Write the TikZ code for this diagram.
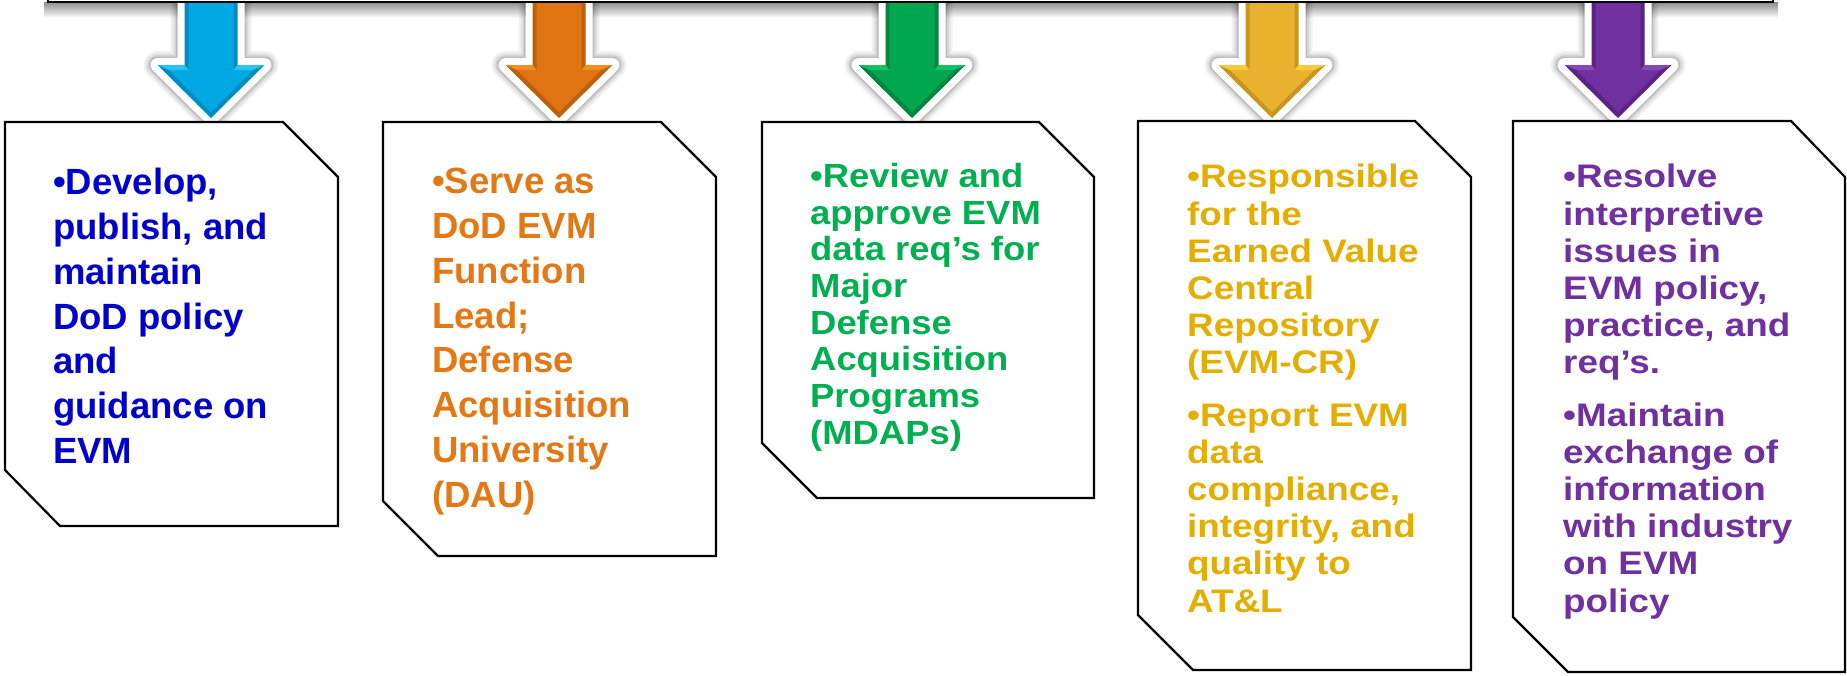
\documentclass[tikz,border=0pt]{standalone}
\usepackage{fontspec}
\setmainfont{Liberation Sans}
\newfontfamily\fontC{Liberation Sans}[FakeStretch=1.087]
\newfontfamily\fontD{Liberation Sans}[FakeStretch=1.13]
\definecolor{tBlue}{RGB}{0,0,204}
\definecolor{tOrange}{RGB}{228,120,20}
\definecolor{tGreen}{RGB}{0,176,80}
\definecolor{tYellow}{RGB}{228,174,0}
\definecolor{tPurple}{RGB}{112,48,160}
\definecolor{aBlueB}{RGB}{0,169,228}\definecolor{aBlueL}{RGB}{40,196,245}\definecolor{aBlueD}{RGB}{0,140,195}
\definecolor{aOrangeB}{RGB}{222,117,16}\definecolor{aOrangeL}{RGB}{246,140,32}\definecolor{aOrangeD}{RGB}{190,95,10}
\definecolor{aGreenB}{RGB}{0,166,80}\definecolor{aGreenL}{RGB}{20,192,100}\definecolor{aGreenD}{RGB}{0,135,65}
\definecolor{aYellowB}{RGB}{232,178,46}\definecolor{aYellowL}{RGB}{250,200,60}\definecolor{aYellowD}{RGB}{200,150,30}
\definecolor{aPurpleB}{RGB}{112,48,160}\definecolor{aPurpleL}{RGB}{135,70,185}\definecolor{aPurpleD}{RGB}{90,35,130}
\newcommand\evmArrow[4]{%
  \foreach \w/\o in {28/0.05,24/0.06,20/0.08,17/0.10}{
    \draw[line width=\w pt, black, opacity=\o, line join=round]
      ({#1-26.5},-5) -- ({#1-26.5},65) -- ({#1-53.5},65) -- (#1,118) -- ({#1+53.5},65) -- ({#1+26.5},65) -- ({#1+26.5},-5);
  }
  \filldraw[white, line width=14pt, line join=round]
    ({#1-26.5},-5) -- ({#1-26.5},65) -- ({#1-53.5},65) -- (#1,118) -- ({#1+53.5},65) -- ({#1+26.5},65) -- ({#1+26.5},-5) -- cycle;
  \fill[#4]
    ({#1-26.5},-5) -- ({#1-26.5},65) -- ({#1-53.5},65) -- (#1,118) -- ({#1+53.5},65) -- ({#1+26.5},65) -- ({#1+26.5},-5) -- cycle;
  \fill[#2]
    ({#1-22.5},-5) -- ({#1-22.5},70) -- ({#1-42},70) -- (#1,112) -- ({#1+42},70) -- ({#1+22.5},70) -- ({#1+22.5},-5) -- cycle;
  \fill[#3] ({#1-53.5},65) -- ({#1-26.5},65) -- ({#1-22.5},70) -- ({#1-42},70) -- cycle;
  \fill[#3] ({#1+53.5},65) -- ({#1+26.5},65) -- ({#1+22.5},70) -- ({#1+42},70) -- cycle;
}
\begin{document}
\begin{tikzpicture}[x=1pt,y=-1pt,
  card/.style={draw=black, line width=2.2pt, fill=white, line join=miter},
  cardtext/.style={anchor=north west, inner sep=0pt, align=left},
  bigfont/.style={font=\fontsize{36.5}{44.8}\selectfont\bfseries},
  midfont/.style={font=\fontC\fontsize{33.5}{36.7}\selectfont\bfseries},
  smallfont/.style={font=\fontD\fontsize{32.6}{37.2}\selectfont\bfseries}]
\useasboundingbox (0,0) rectangle (1847,675);
% shadow of the top bar
\shade[top color=black!45, bottom color=white] (44,2) rectangle (1778,18);
% arrows
\evmArrow{211}{aBlueB}{aBlueL}{aBlueD}
\evmArrow{559}{aOrangeB}{aOrangeL}{aOrangeD}
\evmArrow{912}{aGreenB}{aGreenL}{aGreenD}
\evmArrow{1272}{aYellowB}{aYellowL}{aYellowD}
\evmArrow{1618}{aPurpleB}{aPurpleL}{aPurpleD}
% top bar
\draw[line width=2pt, fill=white] (48,-40) rectangle (1773,2);
\coordinate (bar) at (910,0);
% cards
\draw[card] (5,122) -- (283,122) -- (338,177) -- (338,526) -- (60,526) -- (5,470) -- cycle;
\draw[card] (383,122) -- (661,122) -- (716,177) -- (716,556) -- (438,556) -- (383,501) -- cycle;
\draw[card] (762,122) -- (1039,122) -- (1094,177) -- (1094,498) -- (817,498) -- (762,443) -- cycle;
\draw[card] (1138,121) -- (1415,121) -- (1471,177) -- (1471,670) -- (1193,670) -- (1138,615) -- cycle;
\draw[card] (1513,121) -- (1791,121) -- (1845,177) -- (1845,672) -- (1568,672) -- (1513,617) -- cycle;
% texts
\node[cardtext, bigfont, text=tBlue] (t1) at (53,168)
  {•Develop,\\publish, and\\maintain\\DoD policy\\and\\guidance on\\EVM};
\node[cardtext, bigfont, text=tOrange] (t2) at (432,168)
  {•Serve as\\DoD EVM\\Function\\Lead;\\Defense\\Acquisition\\University\\(DAU)};
\node[cardtext, midfont, text=tGreen] (t3) at (810,163)
  {•Review and\\approve EVM\\data req’s for\\Major\\Defense\\Acquisition\\Programs\\(MDAPs)};
\node[cardtext, smallfont, text=tYellow] (t4) at (1187,164)
  {•Responsible\\for the\\Earned Value\\Central\\Repository\\(EVM-CR)\\[15pt]•Report EVM\\data\\compliance,\\integrity, and\\quality to\\AT\&L};
\node[cardtext, smallfont, text=tPurple] (t5) at (1563,164)
  {•Resolve\\interpretive\\issues in\\EVM policy,\\practice, and\\req’s.\\[15pt]•Maintain\\exchange of\\information\\with industry\\on EVM\\policy};
\end{tikzpicture}
\end{document}
